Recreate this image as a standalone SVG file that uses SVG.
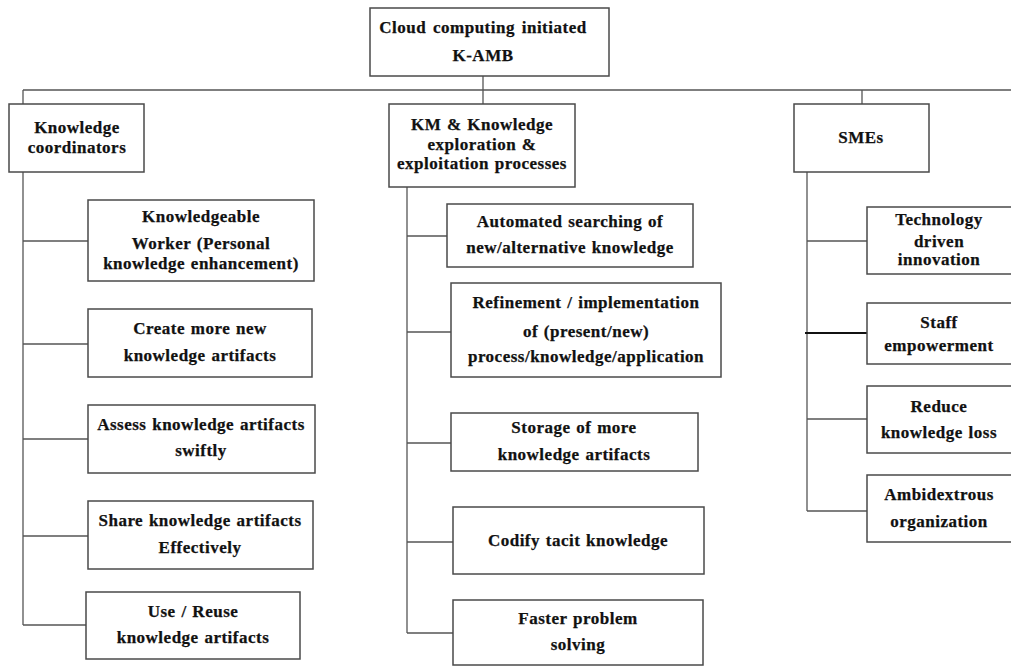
<svg xmlns="http://www.w3.org/2000/svg" width="1011" height="666" viewBox="0 0 1011 666">
<style>
rect.box{fill:#fff;stroke:#4a4a4a;stroke-width:1.5}
text{font-family:"Liberation Serif","Times New Roman",serif;font-weight:bold;font-size:17px;fill:#111;text-anchor:middle;letter-spacing:0.5px;word-spacing:1px;stroke:#111;stroke-width:0.25}
text.t{font-size:17px;word-spacing:2px}
.c line{stroke:#555;stroke-width:1.3}
</style>
<rect width="1011" height="666" fill="#fff"/>
<g class="c" id="connectors">
<line x1="483" y1="76" x2="483" y2="104"/>
<line x1="23" y1="90" x2="1011" y2="90"/>
<line x1="23" y1="90" x2="23" y2="104"/>
<line x1="862" y1="90" x2="862" y2="104"/>
<line x1="23" y1="172" x2="23" y2="625"/>
<line x1="23" y1="241" x2="88" y2="241"/>
<line x1="23" y1="344" x2="88" y2="344"/>
<line x1="23" y1="439" x2="88" y2="439"/>
<line x1="23" y1="536" x2="88" y2="536"/>
<line x1="23" y1="625" x2="86" y2="625"/>
<line x1="407" y1="187" x2="407" y2="633"/>
<line x1="407" y1="236" x2="447" y2="236"/>
<line x1="407" y1="332" x2="451" y2="332"/>
<line x1="407" y1="443" x2="451" y2="443"/>
<line x1="407" y1="542" x2="453" y2="542"/>
<line x1="407" y1="633" x2="453" y2="633"/>
<line x1="807" y1="172" x2="807" y2="511"/>
<line x1="807" y1="241" x2="867" y2="241"/>
<line x1="805" y1="333" x2="867" y2="333" style="stroke:#111;stroke-width:1.8"/>
<line x1="807" y1="419" x2="867" y2="419"/>
<line x1="807" y1="511" x2="867" y2="511"/>
</g>
<g id="root"><rect class="box" x="370" y="8" width="239" height="68"/><text class="t" x="483" y="33">Cloud computing initiated</text><text class="t" x="483" y="61">K-AMB</text></g>
<g id="kc"><rect class="box" x="9" y="104" width="135" height="68"/><text x="77" y="133">Knowledge</text><text x="77" y="153">coordinators</text></g>
<g id="km"><rect class="box" x="389" y="104" width="186" height="83"/><text x="482" y="130">KM &amp; Knowledge</text><text x="482" y="150">exploration &amp;</text><text x="482" y="169">exploitation processes</text></g>
<g id="smes"><rect class="box" x="794" y="104" width="135" height="68"/><text x="861" y="143">SMEs</text></g>
<g id="l1"><rect class="box" x="88" y="200" width="226" height="81"/><text x="201" y="222">Knowledgeable</text><text x="201" y="249">Worker (Personal</text><text x="201" y="269">knowledge enhancement)</text></g>
<g id="l2"><rect class="box" x="88" y="309" width="224" height="68"/><text x="200" y="334">Create more new</text><text x="200" y="361">knowledge artifacts</text></g>
<g id="l3"><rect class="box" x="88" y="405" width="227" height="68"/><text x="201" y="430">Assess knowledge artifacts</text><text x="201" y="456">swiftly</text></g>
<g id="l4"><rect class="box" x="88" y="501" width="225" height="68"/><text x="200" y="526">Share knowledge artifacts</text><text x="200" y="553">Effectively</text></g>
<g id="l5"><rect class="box" x="86" y="592" width="214" height="67"/><text x="193" y="617">Use / Reuse</text><text x="193" y="643">knowledge artifacts</text></g>
<g id="m1"><rect class="box" x="447" y="204" width="246" height="63"/><text x="570" y="227">Automated searching of</text><text x="570" y="253">new/alternative knowledge</text></g>
<g id="m2"><rect class="box" x="451" y="283" width="270" height="94"/><text x="586" y="308">Refinement / implementation</text><text x="586" y="337">of (present/new)</text><text x="586" y="362">process/knowledge/application</text></g>
<g id="m3"><rect class="box" x="451" y="413" width="247" height="58"/><text x="574" y="433">Storage of more</text><text x="574" y="460">knowledge artifacts</text></g>
<g id="m4"><rect class="box" x="453" y="507" width="251" height="67"/><text x="578" y="546">Codify tacit knowledge</text></g>
<g id="m5"><rect class="box" x="453" y="600" width="250" height="65"/><text x="578" y="624">Faster problem</text><text x="578" y="650">solving</text></g>
<g id="r1"><rect class="box" x="867" y="207" width="150" height="67"/><text x="939" y="225">Technology</text><text x="939" y="247">driven</text><text x="939" y="265">innovation</text></g>
<g id="r2"><rect class="box" x="867" y="303" width="150" height="61"/><text x="939" y="328">Staff</text><text x="939" y="351">empowerment</text></g>
<g id="r3"><rect class="box" x="867" y="386" width="150" height="67"/><text x="939" y="412">Reduce</text><text x="939" y="438">knowledge loss</text></g>
<g id="r4"><rect class="box" x="867" y="475" width="150" height="67"/><text x="939" y="500">Ambidextrous</text><text x="939" y="527">organization</text></g>
</svg>
